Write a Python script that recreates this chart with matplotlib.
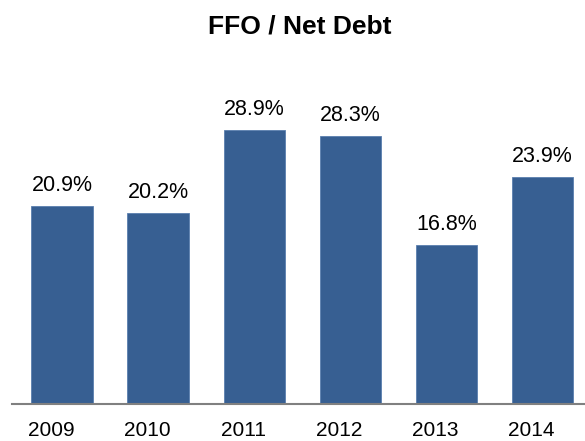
import matplotlib
matplotlib.use("Agg")
import matplotlib.pyplot as plt
import matplotlib.transforms as mtrans

years = ["2009", "2010", "2011", "2012", "2013", "2014"]
values = [20.9, 20.2, 28.9, 28.3, 16.8, 23.9]
labels = ["20.9%", "20.2%", "28.9%", "28.3%", "16.8%", "23.9%"]

plt.rcParams['font.family'] = ['Liberation Sans', 'DejaVu Sans']
W, H = 585, 441
fig = plt.figure(figsize=(W/100, H/100), dpi=100)
ax = fig.add_axes([12/W, (H-404)/H, 573/W, 314/H])
x = range(len(years))
ax.bar(x, values, width=0.64, color="#375F92", edgecolor="#5A7FAE", linewidth=0.6)
ax.set_xlim(-0.52, 5.44)
ax.set_ylim(0, 314/9.48)
for i, (v, l) in enumerate(zip(values, labels)):
    ax.annotate(l, (i, v), xytext=(0, 10.8), textcoords="offset points",
                ha="center", va="baseline", fontsize=15.5)
ax.set_xticks(list(x))
ax.set_xticklabels(years, fontsize=15)
ax.tick_params(axis="x", length=0, pad=12)
shift = mtrans.ScaledTranslation(-11/100, 0, fig.dpi_scale_trans)
for t in ax.get_xticklabels():
    t.set_transform(t.get_transform() + shift)
ax.set_yticks([])
for s in ["top", "right", "left"]:
    ax.spines[s].set_visible(False)
ax.spines["bottom"].set_color("#808080")
ax.spines["bottom"].set_linewidth(1.5)
fig.text(300/W, 1 - 33/H, "FFO / Net Debt", ha="center", va="baseline",
         fontsize=19, fontweight="bold")
fig.savefig("out.png", dpi=100)
